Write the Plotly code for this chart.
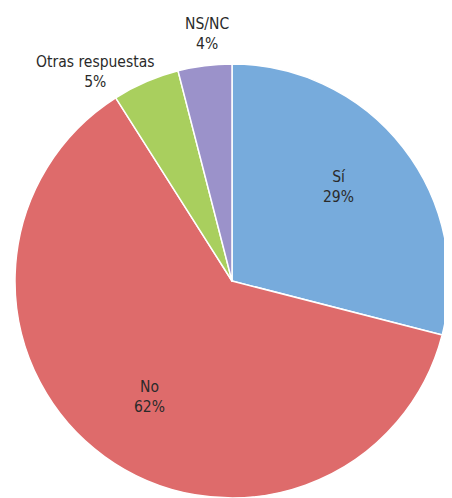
import math
import plotly.graph_objects as go

labels = ["Sí", "No", "Otras respuestas", "NS/NC"]
values = [29, 62, 5, 4]
pct_text = ["29%", "62%", "5%", "4%"]
colors = ["#77ABDC", "#DE6B6B", "#A9CF5E", "#9B92CA"]

# label style: inside (fraction of radius) or at the rim, plus a pixel shift
label_mode = ["inside", "inside", "outside", "outside"]
label_shift = [(-5, 8), (0, -2), (-51, 10), (2, 32)]

W, H = 452, 498
R = 217
cx, cy = 224, 273  # pixel centre within the figure (from top)

FONT = "DejaVu Sans Condensed, Liberation Sans Narrow, Arial Narrow, sans-serif"

fig = go.Figure(go.Pie(
    labels=labels,
    values=values,
    textinfo="none",
    sort=False,
    direction="clockwise",
    rotation=0,
    marker=dict(colors=colors, line=dict(color="white", width=1.5)),
    domain=dict(x=[(cx - R) / W, (cx + R) / W],
                y=[max(0, (H - cy - R) / H), (H - cy + R) / H]),
    hoverinfo="label+percent",
    showlegend=False,
))

total = sum(values)
cum = 0
annotations = []
for lab, v, p, mode, (sx, sy) in zip(labels, values, pct_text, label_mode, label_shift):
    mid = (cum + v / 2) / total * 2 * math.pi
    cum += v
    r = 0.65 * R if mode == "inside" else R
    px = cx + r * math.sin(mid)
    py = cy - r * math.cos(mid)
    annotations.append(dict(
        x=px / W, y=1 - py / H, xref="paper", yref="paper",
        xshift=sx, yshift=sy,
        text=f"{lab}<br>{p}", showarrow=False,
        xanchor="center", yanchor="middle", align="center",
        font=dict(family=FONT, size=15.5, color="#2a2a2a"),
    ))

fig.update_layout(
    width=W, height=H,
    margin=dict(l=0, r=0, t=0, b=0),
    paper_bgcolor="white",
    plot_bgcolor="white",
    annotations=annotations,
)

fig.write_html("out.html")
